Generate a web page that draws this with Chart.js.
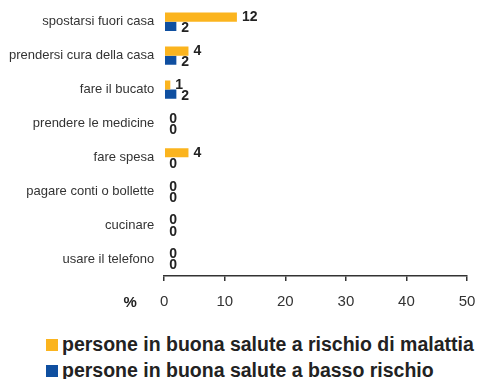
<!DOCTYPE html>
<html>
<head>
<meta charset="utf-8">
<script src="https://cdn.jsdelivr.net/npm/chart.js@4.4.0/dist/chart.umd.min.js"></script>
<style>
  body { margin: 0; background: #fff; font-family: "Liberation Sans", Arial, sans-serif; overflow: hidden; }
  #wrap { position: relative; width: 478px; height: 379px; overflow: hidden; }
  #chart { position: absolute; left: 0; top: -13px; }
  .legend { position: absolute; left: 46px; font-weight: bold; font-size: 19.5px; line-height: 22px; color: #222; white-space: nowrap; }
  .legend span { display: inline-block; width: 12px; height: 12px; margin-right: 4px; vertical-align: 0px; }
</style>
</head>
<body>
<div id="wrap">
  <canvas id="chart" width="478" height="336"></canvas>
  <div class="legend" style="top:333px"><span style="background:#FBB41E"></span>persone in buona salute a rischio di malattia</div>
  <div class="legend" style="top:359px"><span style="background:#0F4FA0"></span>persone in buona salute a basso rischio</div>
</div>
<script>
const categories = [
  "spostarsi fuori casa",
  "prendersi cura della casa",
  "fare il bucato",
  "prendere le medicine",
  "fare spesa",
  "pagare conti o bollette",
  "cucinare",
  "usare il telefono"
];
const rischioMalattia = [12, 4, 1, 0, 4, 0, 0, 0];
const bassoRischio = [2, 2, 2, 0, 0, 0, 0, 0];
const xTicks = [0, 10, 20, 30, 40, 50];

// value labels next to each bar, plus the "%" unit left of the x ticks
const valueLabels = {
  id: "valueLabels",
  afterDatasetsDraw(chart) {
    const ctx = chart.ctx;
    ctx.save();
    ctx.font = "bold 14px 'Liberation Sans', Arial, sans-serif";
    ctx.fillStyle = "#222";
    ctx.textAlign = "left";
    ctx.textBaseline = "middle";
    chart.data.datasets.forEach((ds, i) => {
      const meta = chart.getDatasetMeta(i);
      meta.data.forEach((bar, j) => {
        const dy = i === 0 ? 0 : 2;
        ctx.fillText(ds.data[j], bar.x + 5, bar.y + dy);
      });
    });
    const xs = chart.scales.x;
    ctx.font = "bold 15px 'Liberation Sans', Arial, sans-serif";
    ctx.textAlign = "center";
    ctx.fillText("%", xs.left - 34, xs.top + 27);
    ctx.restore();
  }
};

new Chart(document.getElementById("chart"), {
  type: "bar",
  data: {
    labels: categories,
    datasets: [
      {
        label: "persone in buona salute a rischio di malattia",
        data: rischioMalattia,
        backgroundColor: "#FBB41E",
        barPercentage: 1,
        categoryPercentage: 0.54
      },
      {
        label: "persone in buona salute a basso rischio",
        data: bassoRischio,
        backgroundColor: "#0F4FA0",
        barPercentage: 1,
        categoryPercentage: 0.54
      }
    ]
  },
  options: {
    indexAxis: "y",
    responsive: false,
    animation: false,
    layout: { padding: { left: -1, right: 11, top: 0, bottom: 0 } },
    plugins: {
      legend: { display: false },
      tooltip: { enabled: false }
    },
    scales: {
      x: {
        min: 0,
        max: 50,
        afterBuildTicks: (scale) => {
          scale.ticks = xTicks.map((v) => ({ value: v }));
        },
        // let the "50" label hang past the plot edge
        afterFit: (scale) => {
          scale.paddingRight = 0;
        },
        grid: { display: true, drawOnChartArea: false, drawTicks: true, tickLength: 5, color: "#333", lineWidth: 1.5 },
        border: { display: true, color: "#333", width: 1.5 },
        ticks: {
          padding: 12,
          color: "#333",
          font: { family: "'Liberation Sans', Arial, sans-serif", size: 15 }
        }
      },
      y: {
        grid: { display: false, drawTicks: false },
        border: { display: false },
        ticks: {
          padding: 10,
          color: "#333",
          font: { family: "'Liberation Sans', Arial, sans-serif", size: 13 }
        }
      }
    }
  },
  plugins: [valueLabels]
});
</script>
</body>
</html>
